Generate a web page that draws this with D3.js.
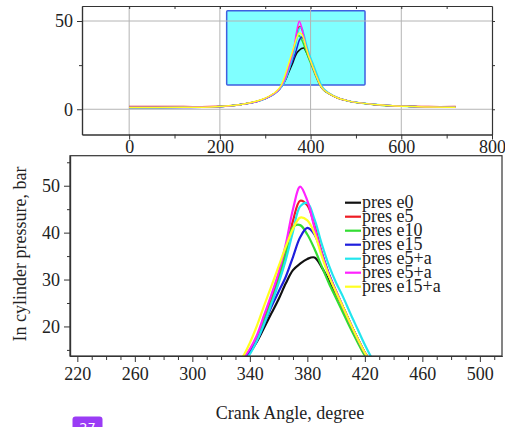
<!DOCTYPE html>
<html>
<head>
<meta charset="utf-8">
<script src="https://cdn.jsdelivr.net/npm/d3@7"></script>
<style>
  html, body { margin: 0; padding: 0; background: #fff; }
  svg { display: block; font-family: "Liberation Serif", "Times New Roman", serif; }
</style>
</head>
<body>
<svg id="chart" width="505" height="427"></svg>
<script>
// Crank angle samples (degrees) shared by every pressure trace
const crankAngle = [0, 60, 120, 180, 220, 250, 280, 300, 320, 330, 335, 340, 345, 350, 355, 360, 365, 370, 375, 380, 385, 390, 395, 400, 405, 410, 415, 420, 425, 430, 440, 460, 480, 500, 540, 580, 620, 660, 720];

// In-cylinder pressure (bar) for each run
const presE0    = [1.2, 1.2, 1.3, 1.4, 1.9, 2.8, 4.3, 6.0, 8.8, 11.0, 12.6, 14.4, 16.8, 19.8, 22.8, 25.8, 29.2, 32.0, 33.4, 34.4, 34.7, 32.6, 29.8, 27.0, 24.0, 20.6, 17.4, 14.4, 12.2, 10.8, 9.0, 6.4, 4.9, 3.9, 2.7, 2.0, 1.6, 1.3, 1.2];
const presE5    = [1.5, 1.5, 1.5, 1.5, 2.0, 2.9, 4.4, 6.1, 8.9, 11.1, 12.8, 14.9, 17.8, 21.6, 25.8, 30.5, 36.0, 42.5, 46.8, 45.8, 41.5, 35.8, 31.0, 27.3, 23.8, 20.5, 17.3, 14.3, 12.1, 10.7, 9.0, 6.4, 4.9, 3.9, 2.7, 2.0, 1.7, 1.5, 1.5];
const presE10   = [1.1, 1.1, 1.2, 1.4, 1.9, 2.8, 4.3, 6.0, 8.8, 11.0, 12.8, 14.8, 17.6, 21.2, 25.2, 29.8, 35.5, 41.2, 41.6, 39.6, 36.5, 32.8, 29.2, 26.0, 22.8, 19.6, 16.6, 13.8, 11.9, 10.6, 8.9, 6.3, 4.8, 3.8, 2.6, 1.9, 1.5, 1.3, 1.2];
const presE15   = [0.8, 0.8, 1.0, 1.3, 1.9, 2.8, 4.3, 6.0, 8.8, 11.0, 12.6, 14.5, 17.0, 20.5, 24.2, 27.4, 30.6, 34.8, 39.0, 41.0, 39.6, 35.6, 31.2, 27.5, 24.0, 20.6, 17.4, 14.4, 12.2, 10.8, 9.0, 6.4, 4.9, 3.9, 2.7, 2.0, 1.6, 1.3, 1.2];
const presE5a   = [1.0, 1.0, 1.1, 1.3, 1.9, 2.8, 4.2, 5.9, 8.6, 10.8, 12.3, 14.1, 17.0, 20.6, 24.8, 29.2, 34.2, 40.2, 45.6, 46.3, 42.8, 37.6, 33.0, 29.3, 26.2, 22.7, 19.4, 16.1, 13.2, 11.4, 9.3, 6.6, 5.0, 4.0, 2.8, 2.0, 1.6, 1.3, 1.2];
const presE5a2  = [1.1, 1.1, 1.2, 1.4, 1.9, 2.8, 4.3, 6.0, 8.8, 11.1, 13.0, 15.2, 18.2, 22.5, 26.8, 31.5, 37.5, 45.0, 49.8, 46.8, 41.0, 35.6, 31.0, 27.5, 24.0, 20.6, 17.4, 14.4, 12.2, 10.8, 9.0, 6.4, 4.9, 3.9, 2.7, 2.0, 1.6, 1.3, 1.2];
const presE15a  = [1.0, 1.0, 1.1, 1.3, 2.0, 2.9, 4.5, 6.3, 9.2, 11.6, 13.5, 16.5, 20.2, 24.5, 28.6, 32.8, 37.0, 40.8, 43.2, 42.6, 39.8, 35.0, 30.8, 27.3, 24.0, 20.6, 17.4, 14.4, 12.2, 10.8, 9.0, 6.4, 4.9, 3.9, 2.7, 2.0, 1.6, 1.3, 1.2];

const seriesNames  = ["pres e0", "pres e5", "pres e10", "pres e15", "pres e5+a", "pres e5+a", "pres e15+a"];
const seriesValues = [presE0, presE5, presE10, presE15, presE5a, presE5a2, presE15a];
const seriesColors = ["#111111", "#ee1c24", "#33dd33", "#1f1fdd", "#22e6ee", "#ff22ff", "#ffff22"];

// Overview axes
const overviewAngleTicks    = [0, 200, 400, 600, 800];
const overviewPressureTicks = [0, 50];
// Window of the detail view, outlined on the overview
const windowAngle    = [215, 520];
const windowPressure = [13.8, 55.8];

// Detail axes
const detailAngleTicks    = [220, 260, 300, 340, 380, 420, 460, 500];
const detailPressureTicks = [20, 30, 40, 50];

const svg = d3.select("#chart");
const traces = seriesNames.map((name, i) => ({
  name, color: seriesColors[i],
  points: crankAngle.map((a, j) => ({ a, p: seriesValues[i][j] }))
}));

function styleAxis(g) {
  g.selectAll(".domain").attr("stroke", "#333").attr("stroke-width", 1.2);
  g.selectAll(".tick line").attr("stroke", "#333");
  g.selectAll("text").attr("font-family", "Liberation Serif, serif").attr("font-size", 18).attr("fill", "#222");
}

// ---------- Overview panel ----------
const xO = d3.scaleLinear().domain([-104, 800]).range([82, 492]);
const yO = d3.scaleLinear().domain([-14.3, 58.5]).range([134.5, 6]);
const overview = svg.append("g");

overview.append("rect")
  .attr("x", xO(windowAngle[0])).attr("y", yO(windowPressure[1]))
  .attr("width", xO(windowAngle[1]) - xO(windowAngle[0]))
  .attr("height", yO(windowPressure[0]) - yO(windowPressure[1]))
  .attr("fill", "#80ffff").attr("stroke", "#3f5fe0").attr("stroke-width", 1.5).attr("rx", 1);

// grid
overview.append("g").selectAll("line").data([0, 200, 400, 600]).join("line")
  .attr("x1", d => xO(d)).attr("x2", d => xO(d))
  .attr("y1", yO.range()[1]).attr("y2", yO.range()[0])
  .attr("stroke", "#b4b4b4").attr("stroke-width", 1);
overview.append("g").selectAll("line").data(overviewPressureTicks).join("line")
  .attr("x1", xO.range()[0]).attr("x2", xO.range()[1])
  .attr("y1", d => yO(d)).attr("y2", d => yO(d))
  .attr("stroke", "#b4b4b4").attr("stroke-width", 1);

const lineO = d3.line().x(d => xO(d.a)).y(d => yO(d.p)).curve(d3.curveCatmullRom.alpha(0.5));
overview.append("g").selectAll("path").data(traces).join("path")
  .attr("d", d => lineO(d.points))
  .attr("fill", "none").attr("stroke", d => d.color).attr("stroke-width", 1.5);

overview.append("g").attr("transform", `translate(0,${yO.range()[0]})`)
  .call(d3.axisBottom(xO).tickValues(overviewAngleTicks).tickSize(5).tickSizeOuter(0).tickPadding(1).tickFormat(d3.format("d")))
  .call(styleAxis);
overview.append("g").attr("transform", `translate(0,${yO.range()[0]})`)
  .call(d3.axisBottom(xO).tickValues([100, 300, 500, 700]).tickSize(4).tickSizeOuter(0).tickFormat(""))
  .call(styleAxis);
overview.append("g").attr("transform", `translate(0,${yO.range()[1]})`)
  .call(d3.axisBottom(xO).tickValues([0, 100, 200, 300, 400, 500, 600, 700]).tickSize(3).tickSizeOuter(0).tickFormat(""))
  .call(styleAxis);
overview.append("g").attr("transform", `translate(${xO.range()[0]},0)`)
  .call(d3.axisLeft(yO).tickValues(overviewPressureTicks).tickSize(5).tickSizeOuter(0).tickPadding(4))
  .call(styleAxis);
overview.append("g").attr("transform", `translate(${xO.range()[0]},0)`)
  .call(d3.axisLeft(yO).tickValues([25]).tickSize(3).tickSizeOuter(0).tickFormat(""))
  .call(styleAxis);
overview.append("g").attr("transform", `translate(${xO.range()[1]},0)`)
  .call(d3.axisRight(yO).tickValues([0, 25, 50]).tickSize(3).tickSizeOuter(0).tickFormat(""))
  .call(styleAxis);

// ---------- Detail panel ----------
const xD = d3.scaleLinear().domain([214.9, 515.4]).range([70, 502]);
const yD = d3.scaleLinear().domain([13.7, 56.4]).range([356, 155.7]);
const detail = svg.append("g");

detail.append("clipPath").attr("id", "detail-clip").append("rect")
  .attr("x", xD.range()[0]).attr("y", yD.range()[1])
  .attr("width", xD.range()[1] - xD.range()[0]).attr("height", yD.range()[0] - yD.range()[1]);

const lineD = d3.line().x(d => xD(d.a)).y(d => yD(d.p)).curve(d3.curveCatmullRom.alpha(0.5));
detail.append("g").attr("clip-path", "url(#detail-clip)")
  .selectAll("path").data(traces).join("path")
  .attr("d", d => lineD(d.points))
  .attr("fill", "none").attr("stroke", d => d.color).attr("stroke-width", 2.2);

// frame
detail.append("rect")
  .attr("x", xD.range()[0]).attr("y", yD.range()[1])
  .attr("width", xD.range()[1] - xD.range()[0]).attr("height", yD.range()[0] - yD.range()[1])
  .attr("fill", "none").attr("stroke", "#333").attr("stroke-width", 1.2);

detail.append("g").attr("transform", `translate(0,${yD.range()[0]})`)
  .call(d3.axisBottom(xD).tickValues(detailAngleTicks).tickSize(6).tickSizeOuter(0).tickPadding(5))
  .call(styleAxis);
detail.append("g").attr("transform", `translate(0,${yD.range()[0]})`)
  .call(d3.axisBottom(xD).tickValues(d3.range(230, 515, 10).filter(v => (v - 220) % 40 !== 0)).tickSize(4).tickSizeOuter(0).tickFormat(""))
  .call(styleAxis);
detail.append("g").attr("transform", `translate(${xD.range()[0]},0)`)
  .call(d3.axisLeft(yD).tickValues(detailPressureTicks).tickSize(6).tickSizeOuter(0).tickPadding(4))
  .call(styleAxis);
detail.append("g").attr("transform", `translate(${xD.range()[0]},0)`)
  .call(d3.axisLeft(yD).tickValues([15, 25, 35, 45, 55]).tickSize(3).tickSizeOuter(0).tickFormat(""))
  .call(styleAxis);

// legend (tightly stacked entries)
const legend = detail.append("g").attr("transform", "translate(345,202.7)");
const item = legend.selectAll("g").data(traces).join("g")
  .attr("transform", (d, i) => `translate(0,${i * 14})`);
item.append("line").attr("x1", 0).attr("x2", 16).attr("y1", 0).attr("y2", 0)
  .attr("stroke", d => d.color).attr("stroke-width", 2.2);
item.append("text").attr("x", 17).attr("y", 4.8)
  .attr("font-size", 18).attr("fill", "#222").text(d => d.name);

// axis titles
svg.append("text").attr("x", 290).attr("y", 419).attr("text-anchor", "middle")
  .attr("font-size", 18).attr("fill", "#222").text("Crank Angle, degree");
svg.append("text").attr("transform", "translate(26,254) rotate(-90)").attr("text-anchor", "middle")
  .attr("font-size", 18).attr("fill", "#222").text("In cylinder pressure, bar");

// page badge
svg.append("rect").attr("x", 72.5).attr("y", 416.5).attr("width", 30).attr("height", 18).attr("rx", 3)
  .attr("fill", "#9a3cf5");
svg.append("text").attr("x", 87.5).attr("y", 432).attr("text-anchor", "middle")
  .attr("font-family", "DejaVu Sans, sans-serif").attr("font-size", 13).attr("fill", "#fff").text("27");
</script>
</body>
</html>
